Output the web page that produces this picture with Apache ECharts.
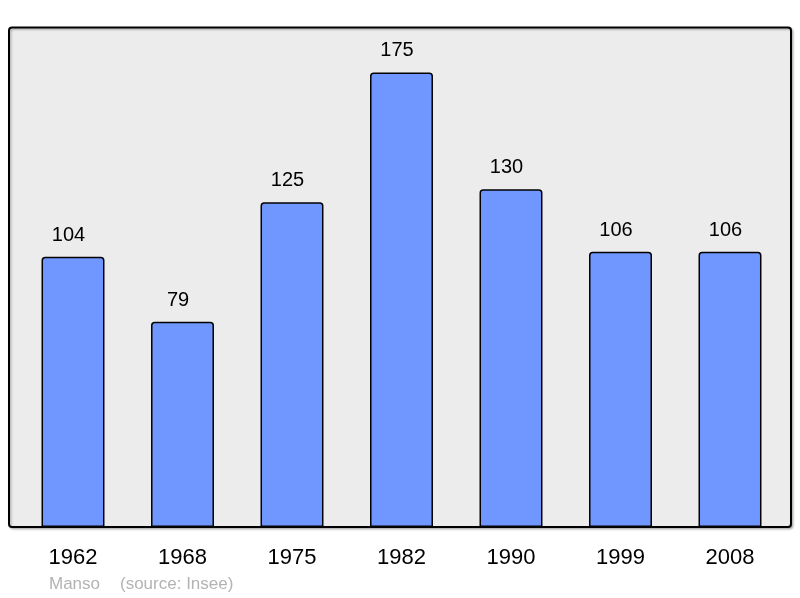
<!DOCTYPE html>
<html>
<head>
<meta charset="utf-8">
<script src="https://cdn.jsdelivr.net/npm/echarts@6/dist/echarts.min.js"></script>
<style>
  html, body { margin: 0; padding: 0; background: #fff; }
  #chart { width: 800px; height: 598px; }
</style>
</head>
<body>
<div id="chart"></div>
<script>
const years = ['1962', '1968', '1975', '1982', '1990', '1999', '2008'];
const population = [104, 79, 125, 175, 130, 106, 106];
const townName = 'Manso';
const sourceText = '(source: Insee)';

const chart = echarts.init(document.getElementById('chart'));

const font = 'Liberation Sans, Arial, sans-serif';

const option = {
    animation: false,
    textStyle: { fontFamily: font },
    graphic: [
        {
            type: 'rect',
            z: -10,
            shape: { x: 9, y: 27.5, width: 782, height: 499.5, r: 3 },
            style: { fill: '#ececec', stroke: '#000', lineWidth: 2,
                shadowColor: 'rgba(0,0,0,0.25)', shadowOffsetX: 1.5, shadowOffsetY: 1.5, shadowBlur: 2 }
        },
        // footer
        { type: 'text', left: 49, top: 576, style: { text: townName, fill: '#b3b3b3', fontSize: 17, fontFamily: font } },
        { type: 'text', left: 120, top: 576, style: { text: sourceText, fill: '#b3b3b3', fontSize: 17, fontFamily: font } }
    ],
    grid: { left: 18.25, right: 15.25, top: 27, bottom: 71 },
    xAxis: {
        type: 'category',
        data: years,
        axisLine: { show: false },
        axisTick: { show: false },
        axisLabel: { color: '#000', fontSize: 22, margin: 20 }
    },
    yAxis: {
        type: 'value',
        min: 0,
        max: 192.5,
        show: false
    },
    series: [{
        type: 'bar',
        data: population,
        barCategoryGap: '42.5%',
        itemStyle: { color: '#7097ff', borderColor: '#000', borderWidth: 1.5, borderRadius: [3, 3, 0, 0] },
        label: { show: true, position: 'top', distance: 11.5, offset: [-4.5, 0], color: '#000', fontSize: 20 }
    }]
};

chart.setOption(option);
</script>
</body>
</html>
